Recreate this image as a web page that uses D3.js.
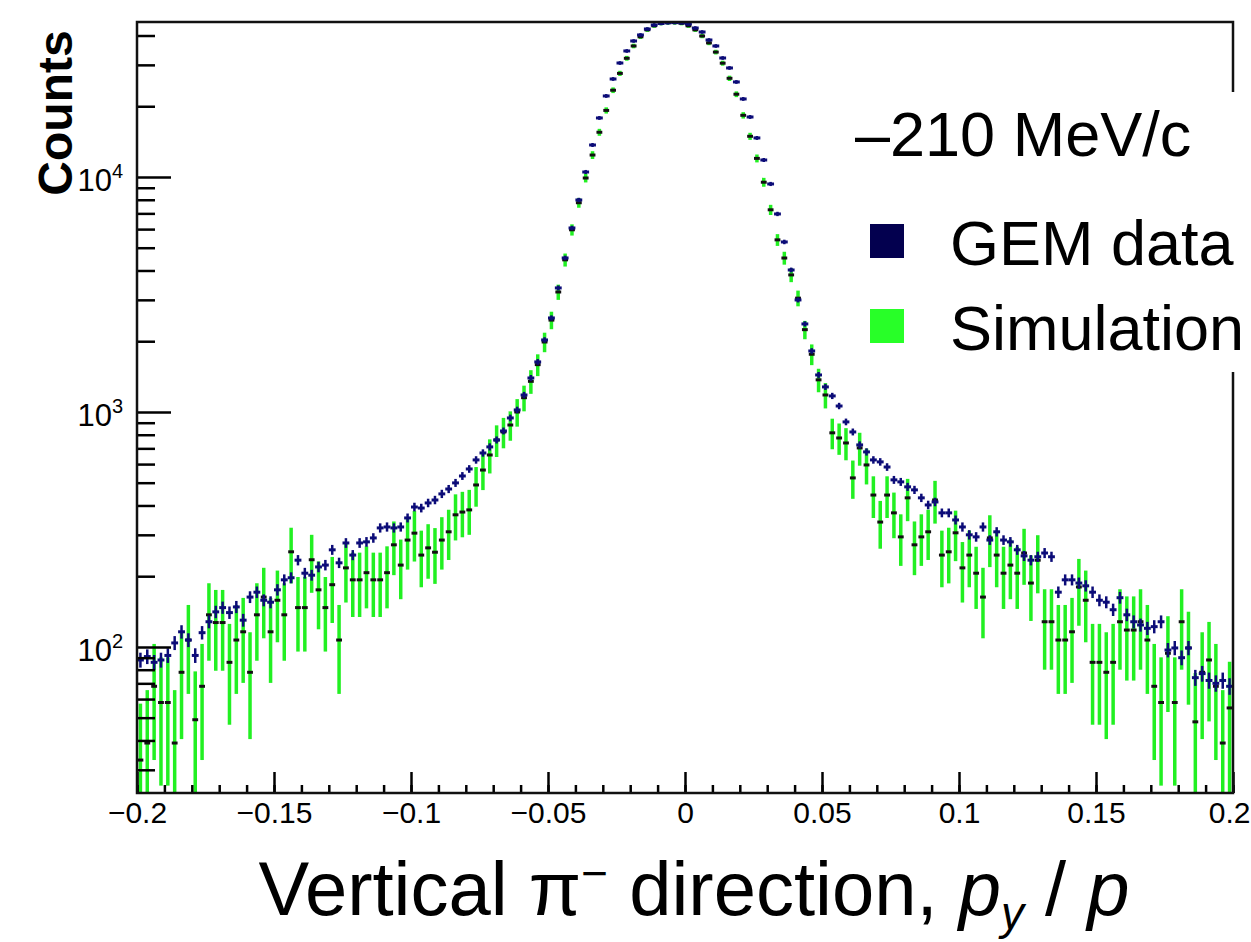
<!DOCTYPE html>
<html>
<head>
<meta charset="utf-8">
<script src="https://cdn.jsdelivr.net/npm/d3@7"></script>
<style>
  body { margin: 0; background: #fff; }
  text { font-family: "Liberation Sans", Arial, Helvetica, sans-serif; fill: #000; }
</style>
</head>
<body>
<div id="chart"></div>
<script>

// histogram binning: 160 bins from -0.2 to 0.2
var binLow = -0.2, binWidth = 0.0025;

// GEM data counts per bin
var gemCounts = [
  88, 91, 86, 88, 92, 104, 116, 107, 92, 115,
  128, 141, 147, 140, 148, 130, 163, 171, 158, 155,
  175, 193, 197, 234, 206, 202, 219, 223, 259, 228,
  277, 246, 277, 280, 291, 321, 324, 321, 324, 354,
  394, 390, 410, 422, 448, 470, 499, 534, 572, 625,
  669, 710, 760, 830, 943, 1020, 1181, 1395, 1633, 2025,
  2512, 3371, 4522, 6067, 7983, 10500, 13680, 17830, 22120, 26120,
  30550, 34380, 37910, 40220, 42640, 44350, 45000, 45300, 45400, 45300,
  44780, 43050, 41400, 38280, 36100, 32090, 29100, 25370, 21480, 18000,
  14660, 11810, 9338, 6960, 5290, 4020, 2997, 2369, 1818, 1437,
  1278, 1170, 1060, 907, 822, 724, 676, 625, 613, 583,
  514, 504, 480, 466, 431, 402, 414, 372, 372, 347,
  324, 300, 294, 324, 285, 309, 285, 280, 259, 244,
  234, 242, 251, 242, 171, 193, 193, 187, 182, 171,
  158, 155, 144, 162, 137, 128, 124, 120, 122, 128,
  97, 99, 90, 99, 74, 77, 72, 70, 72, 68
];

// simulation counts per bin
var simCounts = [
  33, 39, 68, 58, 58, 39, 78, 107, 49, 68,
  137, 127, 127, 86, 107, 116, 78, 137, 163, 116,
  158, 137, 254, 147, 147, 235, 175, 147, 184, 107,
  217, 193, 193, 207, 193, 193, 207, 272, 223, 285,
  305, 246, 264, 253, 285, 309, 365, 375, 383, 489,
  566, 656, 760, 822, 880, 1000, 1150, 1350, 1590, 1985,
  2460, 3240, 4440, 5960, 7770, 9900, 12400, 15500, 19200, 23400,
  27600, 32000, 36100, 39500, 42300, 44000, 45100, 45400, 45400, 45100,
  44000, 42300, 39800, 37200, 34000, 30500, 26300, 22500, 18300, 14900,
  12000, 9500, 7250, 5400, 4520, 3830, 3050, 2240, 1760, 1370,
  1181, 815, 775, 738, 524, 703, 595, 443, 340, 443,
  372, 294, 431, 272, 294, 309, 422, 246, 254, 306,
  217, 246, 206, 163, 291, 246, 206, 223, 206, 251,
  187, 234, 128, 128, 107, 107, 116, 180, 158, 86,
  86, 78, 86, 128, 118, 118, 128, 107, 68, 58,
  94, 58, 128, 99, 48, 78, 88, 68, 39, 55
];

// error scale factors (sigma = sqrt(scale * counts))
var gemErrScale = 0.3;
var simErrScale = 18;

var xTicks = [-0.2, -0.15, -0.1, -0.05, 0, 0.05, 0.1, 0.15, 0.2];
var xTickLabels = ["\u22120.2", "\u22120.15", "\u22120.1", "\u22120.05", "0", "0.05", "0.1", "0.15", "0.2"];
var yTicks = [100, 1000, 10000];
var yTickExponents = ["2", "3", "4"];

var legendLabels = ["GEM data", "Simulation"];
var legendColors = ["#03004f", "#28ff28"];
var legendTitle = "\u2013210 MeV/c";

var width = 1251, height = 942;
var frame = { left: 137, right: 1233, top: 22, bottom: 793 };

var svg = d3.select("#chart").append("svg")
    .attr("width", width)
    .attr("height", height);

var x = d3.scaleLinear().domain([-0.2, 0.2]).range([frame.left, frame.right]);
var y = d3.scaleLog().domain([23.9, 45660]).range([frame.bottom, frame.top]);

var bins = gemCounts.map(function (d, i) {
  return {
    lo: binLow + i * binWidth,
    hi: binLow + (i + 1) * binWidth,
    c: binLow + (i + 0.5) * binWidth,
    gem: d,
    sim: simCounts[i]
  };
});

svg.append("clipPath").attr("id", "plotclip")
  .append("rect")
    .attr("x", frame.left).attr("y", frame.top)
    .attr("width", frame.right - frame.left)
    .attr("height", frame.bottom - frame.top);

var plot = svg.append("g").attr("clip-path", "url(#plotclip)");

function lowY(v, s) {
  var lo = v - s;
  return lo <= y.domain()[0] ? frame.bottom + 5 : y(lo);
}

// simulation: green vertical errors, black bin-wide dash
var simG = plot.append("g");
bins.forEach(function (b) {
  var s = Math.sqrt(simErrScale * b.sim);
  simG.append("line")
    .attr("x1", x(b.c)).attr("x2", x(b.c))
    .attr("y1", y(b.sim + s)).attr("y2", lowY(b.sim, s))
    .attr("stroke", "#22f022").attr("stroke-width", 3.5);
});
bins.forEach(function (b) {
  simG.append("line")
    .attr("x1", x(b.lo) + 0.5).attr("x2", x(b.hi) - 0.5)
    .attr("y1", y(b.sim)).attr("y2", y(b.sim))
    .attr("stroke", "#111").attr("stroke-width", 3);
});

// GEM data: navy crosses
var gemG = plot.append("g");
bins.forEach(function (b) {
  var s = Math.sqrt(gemErrScale * b.gem);
  gemG.append("line")
    .attr("x1", x(b.lo)).attr("x2", x(b.hi))
    .attr("y1", y(b.gem)).attr("y2", y(b.gem))
    .attr("stroke", "#0c0c78").attr("stroke-width", 3);
  gemG.append("line")
    .attr("x1", x(b.c)).attr("x2", x(b.c))
    .attr("y1", y(b.gem + s) - 1.5).attr("y2", y(b.gem - s) + 1.5)
    .attr("stroke", "#0c0c78").attr("stroke-width", 2.5);
});

// axes (ROOT style, ticks inside)
var xMinor = d3.range(-20, 21).map(function (k) { return k / 100; });
svg.append("g")
    .attr("transform", "translate(0," + frame.bottom + ")")
    .call(d3.axisBottom(x).tickValues(xMinor).tickSize(-8).tickFormat(""))
    .call(function (g) { g.select(".domain").remove(); })
    .selectAll("line").attr("stroke-width", 2.5);
var xAx = svg.append("g")
    .attr("transform", "translate(0," + frame.bottom + ")")
    .call(d3.axisBottom(x).tickValues(xTicks).tickSize(-21).tickPadding(9)
      .tickFormat(function (d, i) { return xTickLabels[i]; }));
xAx.select(".domain").remove();
xAx.selectAll("line").attr("stroke-width", 2.5);
xAx.selectAll("text")
    .attr("font-size", 30)
    .attr("font-family", "Liberation Sans, Arial, sans-serif")
    .attr("fill", "#111");
// last label kept inside the picture
xAx.selectAll("text").filter(function (d) { return d === 0.2; })
    .attr("text-anchor", "end").attr("x", width - 1 - x(0.2));

var yMinor = [];
[10, 100, 1000, 10000].forEach(function (dec) {
  for (var m = 2; m <= 9; m++) {
    var v = m * dec;
    if (v >= y.domain()[0] && v <= y.domain()[1]) yMinor.push(v);
  }
});
svg.append("g")
    .attr("transform", "translate(" + frame.left + ",0)")
    .call(d3.axisLeft(y).tickValues(yMinor).tickSize(-18).tickFormat(""))
    .call(function (g) { g.select(".domain").remove(); })
    .selectAll("line").attr("stroke-width", 2.5);
svg.append("g")
    .attr("transform", "translate(" + frame.left + ",0)")
    .call(d3.axisLeft(y).tickValues(yTicks).tickSize(-34).tickFormat(""))
    .call(function (g) { g.select(".domain").remove(); })
    .selectAll("line").attr("stroke-width", 2.5);

var yLab = svg.append("g").selectAll("text")
  .data(yTicks).enter().append("text")
    .attr("x", 123)
    .attr("y", function (d) { return y(d) + 14; })
    .attr("text-anchor", "end")
    .attr("font-size", 31)
    .attr("fill", "#111");
yLab.append("tspan").text("10");
yLab.append("tspan")
    .attr("dy", -13)
    .attr("font-size", 20)
    .text(function (d, i) { return yTickExponents[i]; });

// frame
svg.append("rect")
    .attr("x", frame.left).attr("y", frame.top)
    .attr("width", frame.right - frame.left)
    .attr("height", frame.bottom - frame.top)
    .attr("fill", "none").attr("stroke", "#111").attr("stroke-width", 2.5);

// legend box covers part of the frame
svg.append("rect")
    .attr("x", 840).attr("y", 92)
    .attr("width", width - 840).attr("height", 280)
    .attr("fill", "#fff");

svg.append("text")
    .attr("x", 855).attr("y", 156)
    .attr("font-size", 63)
    .text(legendTitle);

var leg = svg.append("g").selectAll("g")
  .data(legendLabels).enter().append("g")
    .attr("transform", function (d, i) { return "translate(870," + (224 + i * 85) + ")"; });
leg.append("rect")
    .attr("width", 34).attr("height", 34)
    .attr("fill", function (d, i) { return legendColors[i]; });
leg.append("text")
    .attr("x", 80).attr("y", 41)
    .attr("font-size", 63)
    .text(function (d) { return d; });

// axis titles
svg.append("text")
    .attr("transform", "translate(72,113) rotate(-90)")
    .attr("text-anchor", "middle")
    .attr("font-size", 48)
    .attr("font-weight", "bold")
    .text("Counts");

var title = svg.append("text")
    .attr("x", 694).attr("y", 915)
    .attr("text-anchor", "middle")
    .attr("font-size", 76);
title.append("tspan").text("Vertical \u03c0");
title.append("tspan").attr("dy", -26).attr("font-size", 46).text("\u2212");
title.append("tspan").attr("dy", 26).text(" direction, ");
title.append("tspan").attr("font-style", "italic").text("p");
title.append("tspan").attr("font-style", "italic").attr("dy", 14).attr("font-size", 46).text("y");
title.append("tspan").attr("dy", -14).text(" / ");
title.append("tspan").attr("font-style", "italic").text("p");

</script>
</body>
</html>
